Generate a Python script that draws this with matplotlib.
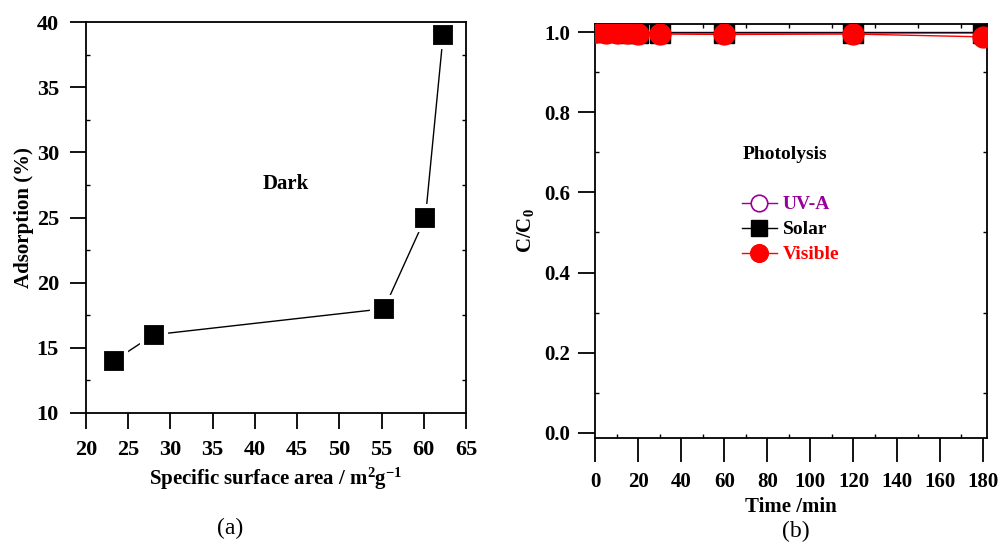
import matplotlib.pyplot as plt
from matplotlib.ticker import MultipleLocator

plt.rcParams['font.family'] = ['Liberation Serif', 'DejaVu Serif']
plt.rcParams['font.weight'] = 'bold'
plt.rcParams['axes.labelweight'] = 'bold'
plt.rcParams['mathtext.fontset'] = 'custom'
plt.rcParams['mathtext.rm'] = 'Liberation Serif:bold'
plt.rcParams['mathtext.bf'] = 'Liberation Serif:bold'
plt.rcParams['mathtext.default'] = 'rm'

# panel (a)
area = [23.3, 28.0, 55.3, 60.2, 62.3]
adsorption = [14, 16, 18, 25, 39]

# panel (b)
time = [0, 5, 10, 15, 20, 30, 60, 120, 180]
uva = [1.0, 1.0, 1.0, 0.999, 0.999, 0.999, 0.999, 0.999, 0.999]
solar = [1.0, 0.999, 0.999, 0.998, 0.998, 0.998, 0.998, 0.998, 0.998]
visible = [0.999, 0.998, 0.997, 0.997, 0.996, 0.995, 0.994, 0.995, 0.988]

fig = plt.figure(figsize=(10.01, 5.51), dpi=100)
ax1 = fig.add_axes([0.0859, 0.2505, 0.3796, 0.7095])
ax2 = fig.add_axes([0.5944, 0.2056, 0.3916, 0.7508])

for ax in (ax1, ax2):
    for s in ax.spines.values():
        s.set_linewidth(1.3)
    ax.tick_params(which='major', direction='out', width=1.3,
                   top=False, right=False)
    ax.tick_params(which='minor', direction='in', length=3, width=1,
                   top=True, right=True, bottom=False, left=True)

# (a)
ax1.plot(area, adsorption, color='black', lw=1, marker='s', ms=17,
         mfc='black', mec='white', mew=3)
ax1.set_xlim(20, 65)
ax1.set_ylim(10, 40)
ax1.xaxis.set_major_locator(MultipleLocator(5))
ax1.yaxis.set_major_locator(MultipleLocator(5))
ax1.yaxis.set_minor_locator(MultipleLocator(2.5))
ax1.tick_params(which='major', length=11.5, labelsize=16, pad=8)
ax1.set_xlabel('Specific surface area / m$^{2}$g$^{-1}$',
               fontsize=15, labelpad=4)
ax1.set_ylabel('Adsorption (%)', fontsize=15, labelpad=2)
ax1.text(43.6, 27.6, 'Dark', fontsize=15, ha='center', va='center')
fig.text(0.23, 0.03, '(a)', fontsize=17, ha='center', fontweight='normal')

# (b)
ax2.plot(time, uva, color='#990099', lw=1, marker='o', ms=14,
         mfc='white', mec='#990099', mew=1.2, label='UV-A', zorder=3)
ax2.plot(time, solar, color='black', lw=1, marker='s', ms=14,
         mfc='black', mec='black', label='Solar', zorder=4)
ax2.plot(time, visible, color='red', lw=1, marker='o', ms=15,
         mfc='red', mec='red', label='Visible', zorder=5)
ax2.set_xlim(0, 182)
ax2.set_ylim(-0.012, 1.02)
ax2.xaxis.set_major_locator(MultipleLocator(20))
ax2.xaxis.set_minor_locator(MultipleLocator(10))
ax2.yaxis.set_major_locator(MultipleLocator(0.2))
ax2.yaxis.set_minor_locator(MultipleLocator(0.1))
ax2.yaxis.set_major_formatter(plt.FormatStrFormatter('%.1f'))
ax2.tick_params(which='major', length=12, labelsize=15, pad=6)
ax2.tick_params(axis='x', which='major', length=17, pad=8)
ax2.tick_params(axis='x', which='minor', bottom=True, direction='in')
ax2.set_xlabel('Time /min', fontsize=15, labelpad=3)
ax2.set_ylabel('C/C$_{0}$', fontsize=15, labelpad=6)
ax2.text(88, 0.694, 'Photolysis', fontsize=14, ha='center', va='center')
leg = ax2.legend(loc='upper left', bbox_to_anchor=(0.33, 0.627), frameon=False,
                 fontsize=14, handlelength=1.8, handletextpad=0.3,
                 labelspacing=0.38, markerscale=0.85,
                 labelcolor=['#990099', 'black', 'red'])
fig.text(0.795, 0.025, '(b)', fontsize=17, ha='center', fontweight='normal')

fig.savefig('out.png', dpi=100)
